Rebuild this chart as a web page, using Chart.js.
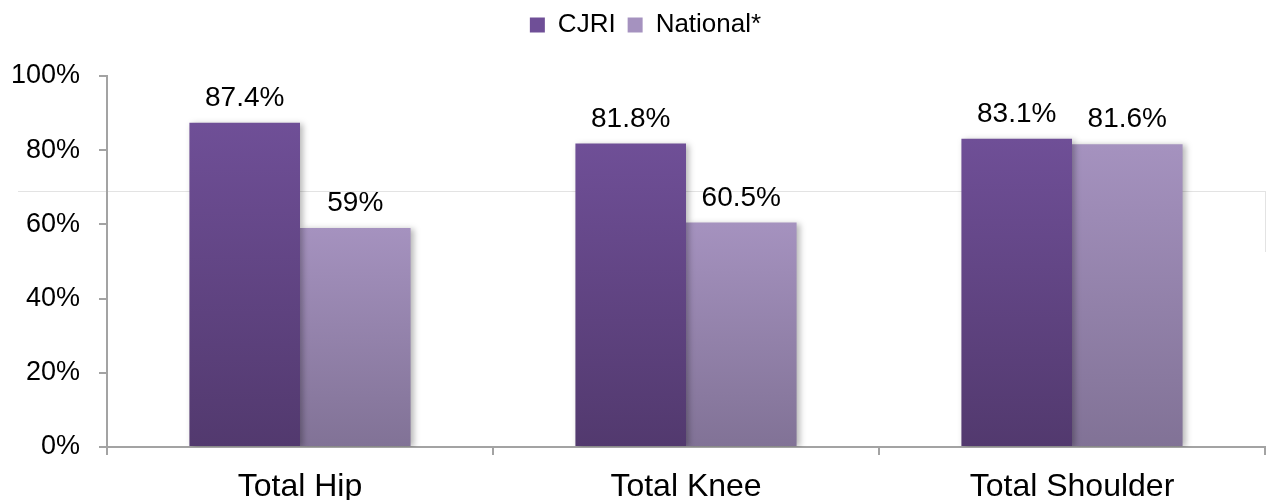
<!DOCTYPE html>
<html>
<head>
<meta charset="utf-8">
<script src="https://cdn.jsdelivr.net/npm/chart.js@4/dist/chart.umd.min.js"></script>
<style>
  html, body { margin: 0; padding: 0; background: #fff; }
  #wrap { position: relative; width: 1267px; height: 500px; }
  /* faint frame line left over in the original picture */
  #frame { position: absolute; left: 18px; top: 191px; width: 1247px; height: 60px;
           border-top: 1px solid #e3e3e3; border-right: 1px solid #e3e3e3; }
  canvas { position: absolute; left: 0; top: 0; }
</style>
</head>
<body>
<div id="wrap">
  <div id="frame"></div>
  <canvas id="chart" width="1267" height="500"></canvas>
</div>
<script>
// ===== DATA =====
const categories = ['Total Hip', 'Total Knee', 'Total Shoulder'];
const cjriValues = [87.4, 81.8, 83.1];
const nationalValues = [59, 60.5, 81.6];
const seriesNames = ['CJRI', 'National*'];
const yMin = 0, yMax = 100, yStep = 20;

const AXIS = '#a3a3a3';
const LEGEND_NUDGE = 13; // legend sits a little right of the canvas centre
Chart.defaults.font.family = "'Liberation Sans', Arial, sans-serif";
Chart.defaults.color = '#000';

// per-bar vertical gradient, lighter on top
function barFill(top, bottom, flat) {
    return ctx => {
        if (ctx.type !== 'data') return flat;
        const y = ctx.chart.scales.y;
        if (!y) return flat;
        const y0 = y.getPixelForValue(ctx.raw);
        const y1 = y.getPixelForValue(0);
        if (!isFinite(y0) || !isFinite(y1) || y0 === y1) return flat;
        const g = ctx.chart.ctx.createLinearGradient(0, y0, 0, y1);
        g.addColorStop(0, top);
        g.addColorStop(1, bottom);
        return g;
    };
}

// soft drop shadow behind bars
const barShadow = {
    id: 'barShadow',
    beforeDatasetsDraw(chart) {
        const c = chart.ctx;
        c.save();
        c.shadowColor = 'rgba(0,0,0,0.28)';
        c.shadowBlur = 6;
        c.shadowOffsetX = 3;
        c.shadowOffsetY = 1;
    },
    afterDatasetsDraw(chart) { chart.ctx.restore(); }
};

// value labels above each bar
const valueLabels = {
    id: 'valueLabels',
    afterDatasetsDraw(chart) {
        const c = chart.ctx;
        c.save();
        c.font = "28px 'Liberation Sans', Arial, sans-serif";
        c.fillStyle = '#000';
        c.textAlign = 'center';
        c.textBaseline = 'alphabetic';
        chart.data.datasets.forEach((ds, i) => {
            chart.getDatasetMeta(i).data.forEach((bar, j) => {
                c.fillText(ds.data[j] + '%', bar.x, bar.y - 17);
            });
        });
        c.restore();
    }
};

// give the legend extra room so the plot starts lower
const legendSpace = {
    id: 'legendSpace',
    beforeInit(chart) {
        const fit = chart.legend.fit;
        chart.legend.fit = function () {
            fit.bind(chart.legend)();
            this.height = 76;
        };
    },
    afterLayout(chart) {
        chart.legend.left += LEGEND_NUDGE;
        chart.legend.right += LEGEND_NUDGE;
    }
};

new Chart(document.getElementById('chart').getContext('2d'), {
    type: 'bar',
    data: {
        labels: categories,
        datasets: [
            {
                label: seriesNames[0],
                data: cjriValues,
                backgroundColor: barFill('#6f4f97', '#52396e', '#62467f'),
                borderWidth: 0,
                categoryPercentage: 0.573,
                barPercentage: 1.0
            },
            {
                label: seriesNames[1],
                data: nationalValues,
                backgroundColor: barFill('#a592bf', '#817296', '#9886b0'),
                borderWidth: 0,
                categoryPercentage: 0.573,
                barPercentage: 1.0
            }
        ]
    },
    options: {
        responsive: false,
        animation: false,
        layout: { padding: { left: 0, right: 2, top: 0, bottom: 0 } },
        plugins: {
            legend: {
                position: 'top',
                labels: {
                    font: { size: 26 },
                    boxWidth: 15,
                    boxHeight: 15,
                    padding: 12,
                    color: '#000'
                }
            },
            tooltip: { enabled: false }
        },
        scales: {
            x: {
                grid: { drawOnChartArea: false, drawTicks: true, tickLength: 8, color: AXIS, lineWidth: 2, offset: true },
                border: { color: AXIS, width: 2 },
                ticks: { font: { size: 32 }, color: '#000', padding: 13, maxRotation: 0 },
                afterFit(scale) { scale.height = 53; }
            },
            y: {
                min: yMin,
                max: yMax,
                grid: { drawOnChartArea: false, drawTicks: true, tickLength: 8, color: AXIS, lineWidth: 2 },
                border: { color: AXIS, width: 2 },
                ticks: {
                    stepSize: yStep,
                    font: { size: 27 },
                    color: '#000',
                    padding: 19,
                    callback: v => v + '%'
                },
                afterFit(scale) { scale.width = 107; }
            }
        }
    },
    plugins: [legendSpace, barShadow, valueLabels]
});
</script>
</body>
</html>
